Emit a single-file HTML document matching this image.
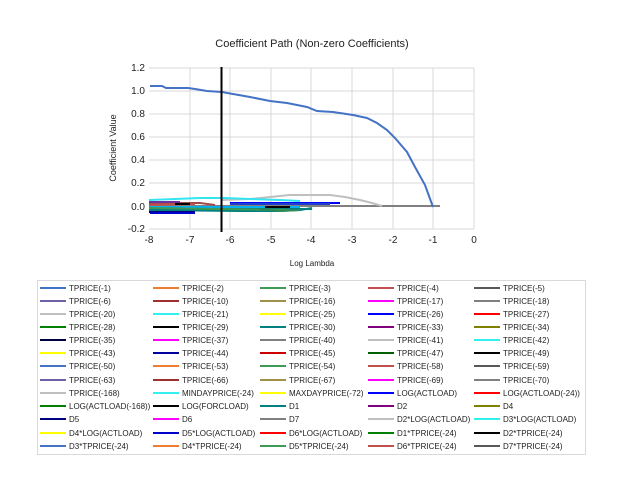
<!DOCTYPE html>
<html><head><meta charset="utf-8"><style>
body{margin:0;background:#fff;}
svg{display:block;font-family:"Liberation Sans",sans-serif;}
</style></head><body>
<svg width="626" height="490" viewBox="0 0 626 490">
<text x="312" y="47" font-size="11" text-anchor="middle" fill="#222">Coefficient Path (Non-zero Coefficients)</text>
<g stroke="#d9d9d9" stroke-width="1">
<line x1="149" y1="68" x2="474" y2="68"/><line x1="149" y1="91" x2="474" y2="91"/><line x1="149" y1="114" x2="474" y2="114"/><line x1="149" y1="137" x2="474" y2="137"/><line x1="149" y1="160" x2="474" y2="160"/><line x1="149" y1="183" x2="474" y2="183"/><line x1="149" y1="229" x2="474" y2="229"/>
<line x1="190" y1="68" x2="190" y2="229"/><line x1="230" y1="68" x2="230" y2="229"/><line x1="271" y1="68" x2="271" y2="229"/><line x1="311" y1="68" x2="311" y2="229"/><line x1="352" y1="68" x2="352" y2="229"/><line x1="393" y1="68" x2="393" y2="229"/><line x1="433" y1="68" x2="433" y2="229"/><line x1="474" y1="68" x2="474" y2="229"/>
</g>
<g font-size="10" fill="#222" text-anchor="end">
<text x="145" y="71">1.2</text><text x="145" y="94">1.0</text><text x="145" y="117">0.8</text><text x="145" y="140">0.6</text><text x="145" y="163">0.4</text><text x="145" y="186">0.2</text><text x="145" y="210">0.0</text><text x="145" y="232">-0.2</text>
</g>
<g font-size="10" fill="#222" text-anchor="middle">
<text x="149" y="243">-8</text><text x="190" y="243">-7</text><text x="230" y="243">-6</text><text x="271" y="243">-5</text><text x="311" y="243">-4</text><text x="352" y="243">-3</text><text x="393" y="243">-2</text><text x="433" y="243">-1</text><text x="474" y="243">0</text>
</g>
<text x="312" y="266" font-size="8" text-anchor="middle" fill="#222">Log Lambda</text>
<text transform="translate(116,148) rotate(-90)" font-size="9" text-anchor="middle" fill="#222">Coefficient Value</text>
<g fill="none" stroke-width="2">
<polyline stroke="#808080" points="149,206 440,206"/>
<polyline stroke="#00b0f0" points="149,207 300,207"/>
<polyline stroke="#008080" points="149,209 312,209"/>
<polyline stroke="#008080" points="149,210 240,211 280,211 300,210 312,208"/>
<polyline stroke="#3e9a55" points="149,208 290,210"/>
<polyline stroke="#2e8b57" points="260,209 280,211 300,210"/>
<polyline stroke="#9e4a4a" points="149,203 200,203 215,205"/>
<polyline stroke="#c0504d" points="149,205 195,204"/>
<polyline stroke="#7030a0" points="149,202 180,202"/>
<polyline stroke="#000080" points="149,212 195,212"/>
<polyline stroke="#0000cc" points="150,213 195,213"/>
<polyline stroke="#000" points="175,204 190,204"/>
<polyline stroke="#000" points="265,207 290,207"/>
<polyline stroke="#bfbfbf" points="222,200 250,199 270,197 290,195 330,195 345,197 360,200 372,203 382,206"/>
<polyline stroke="#33e5f0" points="149,200 175,199 200,198 225,198 250,199 280,200 300,201"/>
<polyline stroke="#0000ff" points="230,203 340,203"/>
<polyline stroke="#1f3fcf" points="230,204 330,204"/>
<polyline stroke="#4472c4" points="150,86 162,86 166,88 188,88 195,89 207,91 222,92 233,94 250,97 270,101 287,103 307,107 317,111 333,112 353,115 367,118 377,123 387,130 395,138 407,152 415,167 425,185 433,207"/>
</g>
<line x1="221.5" y1="67" x2="221.5" y2="232" stroke="#000" stroke-width="2"/>
<rect x="37.5" y="280.5" width="548" height="174" fill="none" stroke="#d9d9d9"/>
<g font-size="8" fill="#222" id="leg"></g>
</svg>
<script>
var items=[["TPRICE(-1)","#4472c4"],["TPRICE(-2)","#ed7d31"],["TPRICE(-3)","#3e9a55"],["TPRICE(-4)","#c0504d"],["TPRICE(-5)","#595959"],
["TPRICE(-6)","#7060a8"],["TPRICE(-10)","#9e3030"],["TPRICE(-16)","#a0904a"],["TPRICE(-17)","#ff00ff"],["TPRICE(-18)","#808080"],
["TPRICE(-20)","#bfbfbf"],["TPRICE(-21)","#33f0f0"],["TPRICE(-25)","#ffff00"],["TPRICE(-26)","#0000ff"],["TPRICE(-27)","#ff0000"],
["TPRICE(-28)","#008000"],["TPRICE(-29)","#000000"],["TPRICE(-30)","#008080"],["TPRICE(-33)","#800080"],["TPRICE(-34)","#808000"],
["TPRICE(-35)","#000040"],["TPRICE(-37)","#ff00ff"],["TPRICE(-40)","#808080"],["TPRICE(-41)","#bfbfbf"],["TPRICE(-42)","#33f0f0"],
["TPRICE(-43)","#ffff00"],["TPRICE(-44)","#0000a0"],["TPRICE(-45)","#cc0000"],["TPRICE(-47)","#006000"],["TPRICE(-49)","#000000"],
["TPRICE(-50)","#4472c4"],["TPRICE(-53)","#ed7d31"],["TPRICE(-54)","#3e9a55"],["TPRICE(-58)","#c0504d"],["TPRICE(-59)","#595959"],
["TPRICE(-63)","#7060a8"],["TPRICE(-66)","#9e3030"],["TPRICE(-67)","#a0904a"],["TPRICE(-69)","#ff00ff"],["TPRICE(-70)","#808080"],
["TPRICE(-168)","#bfbfbf"],["MINDAYPRICE(-24)","#33f0f0"],["MAXDAYPRICE(-72)","#ffff00"],["LOG(ACTLOAD)","#0000ff"],["LOG(ACTLOAD(-24))","#ff0000"],
["LOG(ACTLOAD(-168))","#008000"],["LOG(FORCLOAD)","#000000"],["D1","#008080"],["D2","#800080"],["D4","#808000"],
["D5","#000080"],["D6","#ff00ff"],["D7","#808080"],["D2*LOG(ACTLOAD)","#bfbfbf"],["D3*LOG(ACTLOAD)","#33f0f0"],
["D4*LOG(ACTLOAD)","#ffff00"],["D5*LOG(ACTLOAD)","#0000cc"],["D6*LOG(ACTLOAD)","#ff0000"],["D1*TPRICE(-24)","#008000"],["D2*TPRICE(-24)","#000000"],
["D3*TPRICE(-24)","#4472c4"],["D4*TPRICE(-24)","#ed7d31"],["D5*TPRICE(-24)","#3e9a55"],["D6*TPRICE(-24)","#c0504d"],["D7*TPRICE(-24)","#595959"]];
var cols=[40,153,260,368,474],rows=[288,301,314,327,340,353,366,380,393,406,419,433,446];
var g=document.getElementById('leg'),ns="http://www.w3.org/2000/svg",h="";
items.forEach(function(it,i){var c=cols[i%5],r=rows[Math.floor(i/5)];
h+='<line x1="'+c+'" y1="'+r+'" x2="'+(c+26)+'" y2="'+r+'" stroke="'+it[1]+'" stroke-width="2"/>';
h+='<text x="'+(c+29)+'" y="'+(r+3)+'">'+it[0]+'</text>';});
g.innerHTML=h;
</script>
</body></html>
